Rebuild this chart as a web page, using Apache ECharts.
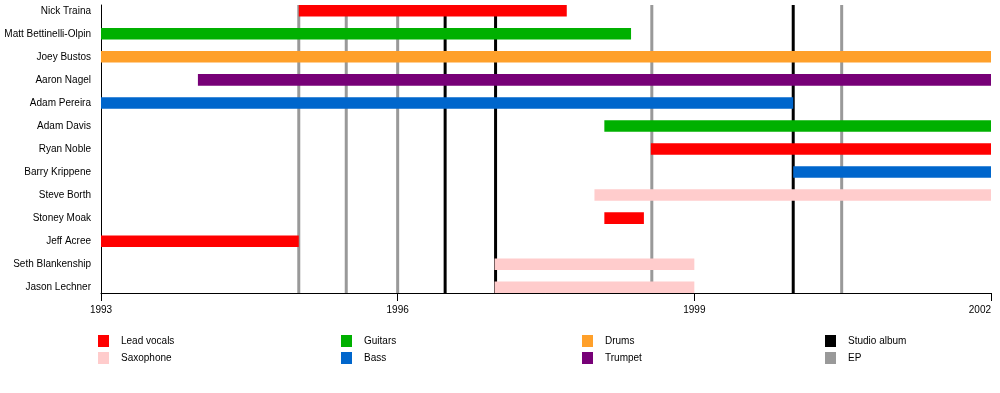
<!DOCTYPE html>
<html><head><meta charset="utf-8">
<script src="https://cdn.jsdelivr.net/npm/echarts@6/dist/echarts.min.js"></script>
<style>html,body{margin:0;padding:0;background:#fff}#c{width:1000px;height:393px}</style>
</head><body><div id="c"></div>
<script>
const members = ['Nick Traina','Matt Bettinelli-Olpin','Joey Bustos','Aaron Nagel','Adam Pereira','Adam Davis','Ryan Noble','Barry Krippene','Steve Borth','Stoney Moak','Jeff Acree','Seth Blankenship','Jason Lechner'];
const xTicks = [1993, 1996, 1999, 2002];
// [member index, start, end]
const leadVocals = [[0,1995.0,1997.71],[6,1998.56,2002],[9,1998.09,1998.49],[10,1993,1995.0]];
const saxophone = [[8,1997.99,2002],[11,1996.98,1999.0],[12,1996.98,1999.0]];
const guitars = [[1,1993,1998.36],[5,1998.09,2002]];
const bass = [[4,1993,2000.0],[7,2000.0,2002]];
const drums = [[2,1993,2002]];
const trumpet = [[3,1993.98,2002]];
const studioAlbums = [1996.48, 1996.99, 2000.0];
const eps = [1995.0, 1995.48, 1996.0, 1998.57, 2000.49];

const colors = {
  'Lead vocals':'#ff0000','Saxophone':'#ffcccc','Guitars':'#00b000','Bass':'#0066cc',
  'Drums':'#ffa02a','Trumpet':'#770077','Studio album':'#000000','EP':'#999999'
};

function barSeries(name, data){
  return {
    type:'custom', name, z:3, data,
    encode:{x:[1,2], y:0},
    itemStyle:{color:colors[name]},
    renderItem(params, api){
      const r = api.value(0), s = api.value(1), e = api.value(2);
      const p0 = api.coord([s, r]), p1 = api.coord([e, r]);
      const h = api.size([0, 0.5])[1];
      return {type:'rect', shape:{x:p0[0], y:p0[1]-h/2, width:p1[0]-p0[0], height:h}, style:{fill:colors[name]}};
    }
  };
}
function lineSeries(name, data){
  return {
    type:'custom', name, z:2, data:data.map(v=>[v]),
    encode:{x:0},
    itemStyle:{color:colors[name]},
    renderItem(params, api){
      const x = api.value(0);
      const a = api.coord([x, -0.25]), b = api.coord([x, 12.25]);
      return {type:'line', shape:{x1:a[0], y1:a[1], x2:b[0], y2:b[1]}, style:{stroke:colors[name], lineWidth:3}};
    }
  };
}

const font = 'Liberation Sans, Arial, sans-serif';
function legend(left, names){
  return {
    orient:'vertical', left, top:335, padding:0, itemWidth:11, itemHeight:12, itemGap:5,
    selectedMode:false,
    textStyle:{fontFamily:font, fontSize:10, color:'#000', padding:[3,0,0,7]},
    data:names.map(n=>({name:n, icon:'rect', itemStyle:{color:colors[n]}}))
  };
}

const chart = echarts.init(document.getElementById('c'), null, {renderer:'canvas'});
chart.setOption({
  animation:false,
  textStyle:{fontFamily:font},
  grid:{left:101, right:9, top:5, bottom:100, outerBoundsMode:'none', containLabel:false},
  xAxis:{
    type:'value', min:1993, max:2002, interval:3,
    axisLine:{show:true, onZero:false, lineStyle:{color:'#000', width:1}},
    axisTick:{show:true, length:8, lineStyle:{color:'#000'}},
    axisLabel:{fontSize:10, color:'#000', margin:12, fontFamily:font,
      customValues:xTicks, formatter:v=>String(v), alignMaxLabel:'right', alignMinLabel:'center'},
    splitLine:{show:false}
  },
  yAxis:{
    type:'value', inverse:true, min:-0.25, max:12.25,
    axisLine:{show:true, onZero:false, lineStyle:{color:'#000', width:1}},
    axisTick:{show:false},
    axisLabel:{fontSize:10, color:'#000', margin:10, fontFamily:font,
      customValues:members.map((m,i)=>i), formatter:v=>members[Math.round(v)]},
    splitLine:{show:false}
  },
  legend:[
    legend(98,['Lead vocals','Saxophone']),
    legend(341,['Guitars','Bass']),
    legend(582,['Drums','Trumpet']),
    legend(825,['Studio album','EP'])
  ],
  series:[
    lineSeries('Studio album', studioAlbums),
    lineSeries('EP', eps),
    barSeries('Lead vocals', leadVocals),
    barSeries('Saxophone', saxophone),
    barSeries('Guitars', guitars),
    barSeries('Bass', bass),
    barSeries('Drums', drums),
    barSeries('Trumpet', trumpet)
  ]
});
</script>
</body></html>
